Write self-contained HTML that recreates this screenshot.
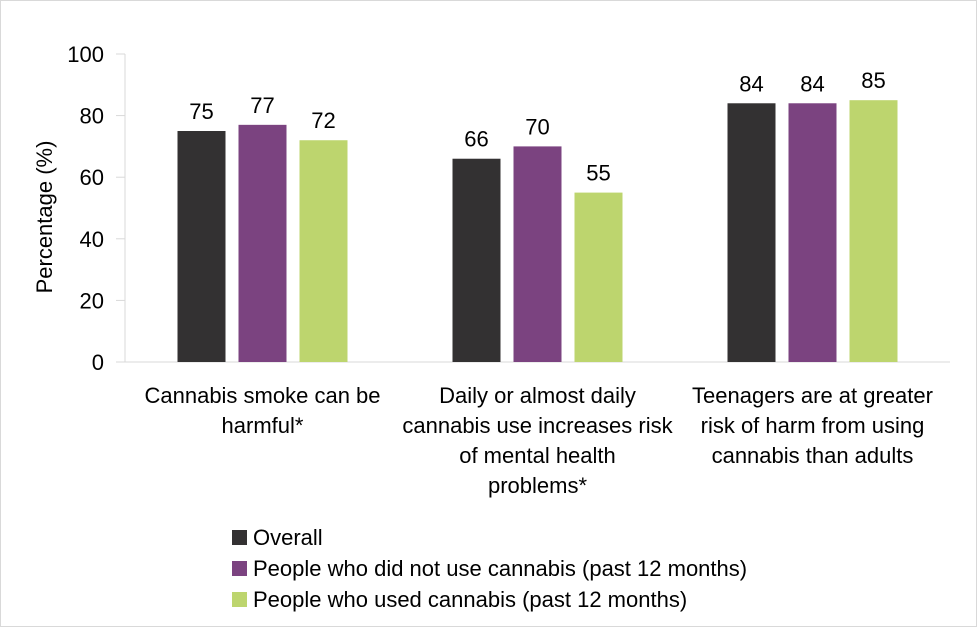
<!DOCTYPE html>
<html><head><meta charset="utf-8"><style>
body{margin:0;background:#fff}
#wrap{position:relative;width:975px;height:625px;border:1px solid #d9d9d9;overflow:hidden}
svg text{font-family:"Liberation Sans",sans-serif;fill:#000}
</style></head><body>
<div id="wrap">
<svg id="chart" width="977" height="627"></svg>
</div>
<script>
const categories=[["Cannabis smoke can be","harmful*"],["Daily or almost daily","cannabis use increases risk","of mental health","problems*"],["Teenagers are at greater","risk of harm from using","cannabis than adults"]];
const seriesNames=["Overall","People who did not use cannabis (past 12 months)","People who used cannabis (past 12 months)"];
const overall=[75,66,84];
const nonUsers=[77,70,84];
const users=[72,55,85];
const ticks=[0,20,40,60,80,100];
const colors=["#333132","#7b4380","#bdd56e"];
const series=[overall,nonUsers,users];
const NS="http://www.w3.org/2000/svg";
const svg=document.getElementById('chart');
const x0=124,x1=949,y0=361,y1=53;
const catW=(x1-x0)/categories.length;
const yS=v=>y0-(v/100)*(y0-y1);
const FS=22;
function mk(t,a,txt){const e=document.createElementNS(NS,t);for(const k in a)e.setAttribute(k,a[k]);if(txt!==undefined)e.textContent=txt;svg.appendChild(e);return e;}
ticks.forEach(t=>{
 const y=yS(t);
 const l=mk('line',{x1:x0-9,x2:x0,y1:y,y2:y,stroke:'#d9d9d9','stroke-width':1});
 
 
 const tx=mk('text',{x:x0-21,y:y+8,'text-anchor':'end','font-size':FS},t);
 
 
});
const ya=mk('line',{x1:x0,x2:x0,y1:y1,y2:y0,stroke:'#d9d9d9','stroke-width':1});


const xa=mk('line',{x1:x0,x2:x1,y1:y0,y2:y0,stroke:'#d9d9d9','stroke-width':1});


const yt=mk('text',{x:0,y:0,'text-anchor':'middle','font-size':FS,transform:'translate(51,216) rotate(-90)'},'Percentage (%)');


const bw=48,gap=13;
categories.forEach((c,i)=>{
 const cx=x0+catW*(i+0.5);
 series.forEach((s,j)=>{
  const bx=cx-bw*1.5-gap+j*(bw+gap);
  const r=mk('rect',{x:bx,y:yS(s[i]),width:bw,height:y0-yS(s[i]),fill:colors[j]});
  
  
  const lb=mk('text',{x:bx+bw/2,y:yS(s[i])-12,'text-anchor':'middle','font-size':FS},s[i]);
  
  
 });
 c.forEach((line,k)=>{
  const t=mk('text',{x:cx,y:402+k*30,'text-anchor':'middle','font-size':FS},line);
  
  
 });
});
seriesNames.forEach((n,j)=>{
 const y=529+j*31;
 const r=mk('rect',{x:231,y:y,width:15,height:15,fill:colors[j]});
 
 
 const t=mk('text',{x:252,y:y+15,'font-size':FS},n);
 
 
});
</script>
</body></html>
